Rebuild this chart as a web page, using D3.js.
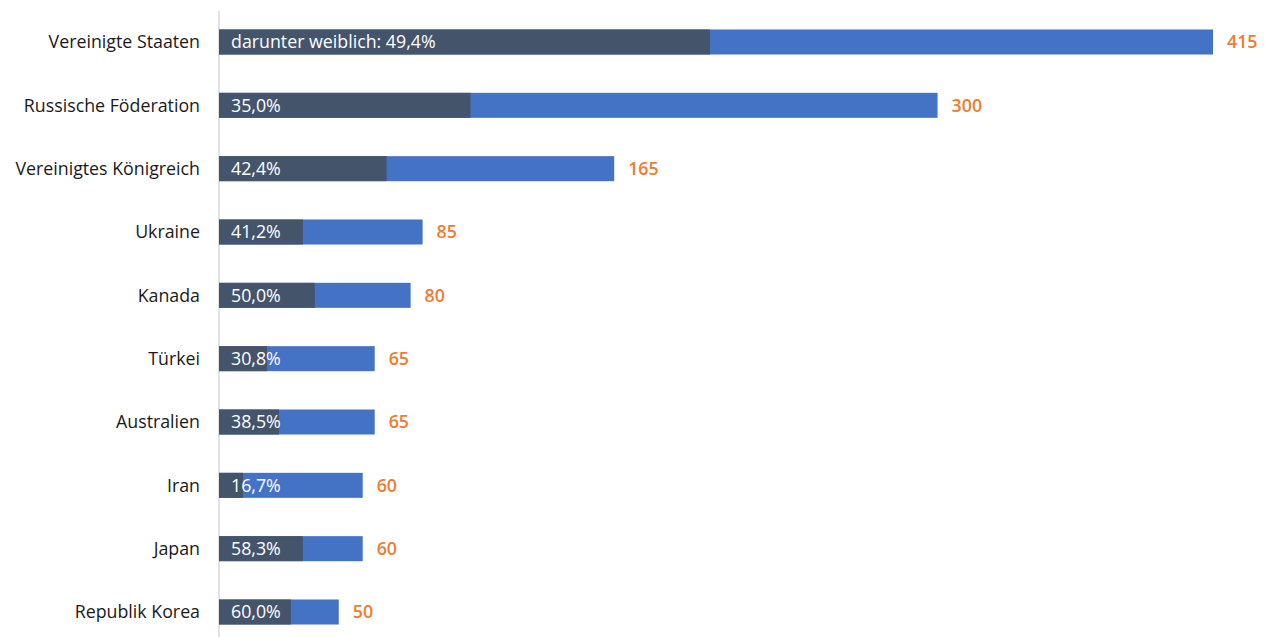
<!DOCTYPE html>
<html><head><meta charset="utf-8">
<script src="https://cdn.jsdelivr.net/npm/d3@7"></script>
<style>body{margin:0;background:#fff;} svg{display:block;}</style>
</head><body>
<svg id="chart" width="1271" height="637"></svg>
<script>
const categories = ["Vereinigte Staaten","Russische Föderation","Vereinigtes Königreich","Ukraine","Kanada","Türkei","Australien","Iran","Japan","Republik Korea"];
const totals = [415,300,165,85,80,65,65,60,60,50];
const femaleShare = [49.4,35.0,42.4,41.2,50.0,30.8,38.5,16.7,58.3,60.0];
const shareLabels = ["darunter weiblich: 49,4%","35,0%","42,4%","41,2%","50,0%","30,8%","38,5%","16,7%","58,3%","60,0%"];

const svg = d3.select("#chart");
const font = "'Open Sans', sans-serif";
const fs = 17.8;
const x = d3.scaleLinear().domain([0,415]).range([219,1213]);
const y = d3.scaleBand().domain(categories).range([10.33,643.67]).paddingInner(0.605).paddingOuter(0.3025);

svg.append("line").attr("x1",219).attr("x2",219).attr("y1",11).attr("y2",637)
  .attr("stroke","#d9d9d9").attr("stroke-width",1.5);

const rows = categories.map((c,i)=>({c,total:totals[i],share:femaleShare[i],label:shareLabels[i]}));
const g = svg.selectAll("g.row").data(rows).join("g").attr("class","row");

g.append("rect").attr("x",x(0)).attr("y",d=>y(d.c)).attr("height",y.bandwidth())
  .attr("width",d=>x(d.total)-x(0)).attr("fill","#4472c4");
g.append("rect").attr("x",x(0)).attr("y",d=>y(d.c)).attr("height",y.bandwidth())
  .attr("width",d=>x(d.total*d.share/100)-x(0)).attr("fill","#44546a");

g.append("text").attr("x",200).attr("y",d=>y(d.c)+y.bandwidth()/2).attr("dy","0.35em")
  .attr("text-anchor","end").attr("font-family",font).attr("font-size",fs).attr("fill","#1a1a1a")
  .text(d=>d.c);
g.append("text").attr("x",x(0)+12).attr("y",d=>y(d.c)+y.bandwidth()/2).attr("dy","0.35em")
  .attr("font-family",font).attr("font-size",fs).attr("font-weight",500).attr("fill","#ffffff")
  .text(d=>d.label);
g.append("text").attr("x",d=>x(d.total)+14).attr("y",d=>y(d.c)+y.bandwidth()/2).attr("dy","0.35em")
  .attr("font-family",font).attr("font-size",fs).attr("font-weight",600).attr("fill","#ed7d31")
  .text(d=>d3.format(",")(d.total));
</script>
</body></html>
